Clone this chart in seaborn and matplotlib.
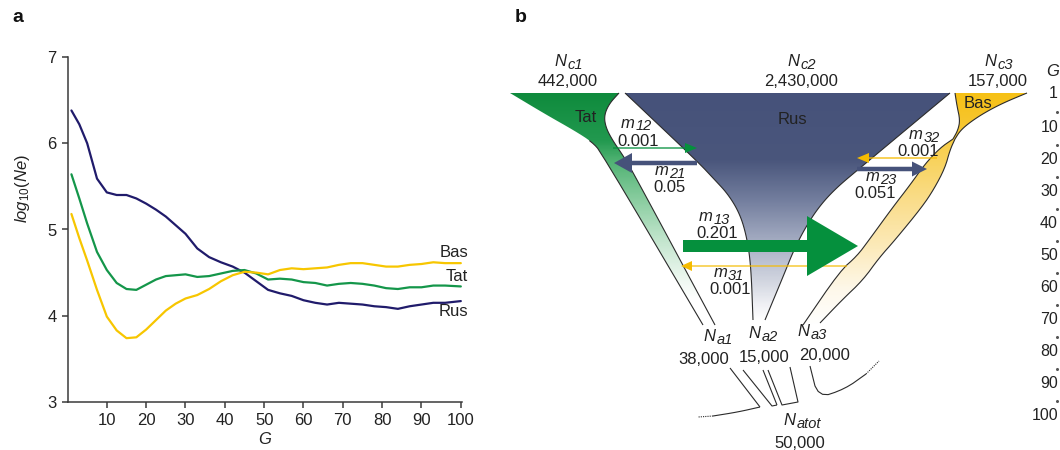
import numpy as np
import pandas as pd
import matplotlib
matplotlib.use("Agg")
import matplotlib.pyplot as plt
import seaborn as sns
from matplotlib.patches import Polygon, FancyArrow
from matplotlib.colors import LinearSegmentedColormap
from matplotlib.textpath import TextPath
from matplotlib.font_manager import FontProperties

# ---- panel a data: log10(Ne) against generation G
G = [1, 3, 5, 7.5, 10, 12.5, 15, 17.5, 20, 22.5, 25, 27.5, 30, 33, 36, 39, 42, 45,
     48, 51, 54, 57, 60, 63, 66, 69, 72, 75, 78, 81, 84, 87, 90, 93, 96, 100]
rus = [6.38, 6.22, 6.00, 5.59, 5.43, 5.40, 5.40, 5.36, 5.30, 5.23, 5.15, 5.05, 4.95, 4.78,
       4.68, 4.62, 4.57, 4.50, 4.40, 4.30, 4.26, 4.23, 4.18, 4.15, 4.13, 4.15, 4.14, 4.13,
       4.11, 4.10, 4.08, 4.11, 4.13, 4.15, 4.15, 4.17]
tat = [5.64, 5.36, 5.07, 4.74, 4.53, 4.38, 4.31, 4.30, 4.36, 4.42, 4.46, 4.47, 4.48, 4.45,
       4.46, 4.49, 4.52, 4.53, 4.49, 4.42, 4.43, 4.42, 4.39, 4.38, 4.35, 4.37, 4.38, 4.37,
       4.35, 4.32, 4.31, 4.33, 4.33, 4.35, 4.35, 4.34]
bas = [5.18, 4.90, 4.64, 4.30, 3.99, 3.83, 3.74, 3.75, 3.84, 3.95, 4.06, 4.14, 4.20, 4.24,
       4.31, 4.40, 4.47, 4.51, 4.50, 4.48, 4.53, 4.55, 4.54, 4.55, 4.56, 4.59, 4.61, 4.61,
       4.59, 4.57, 4.57, 4.59, 4.60, 4.62, 4.61, 4.61]
pops = ["Rus", "Tat", "Bas"]
pop_colors = {"Rus": "#201b6b", "Tat": "#14964a", "Bas": "#f7c600"}
label_offset = {"Rus": -0.12, "Tat": 0.11, "Bas": 0.12}

# ---- panel b data: model parameters
nc_names = ["c1", "c2", "c3"]
nc_sizes = ["442,000", "2,430,000", "157,000"]
na_names = ["a1", "a2", "a3"]
na_sizes = ["38,000", "15,000", "20,000"]
natot = "50,000"
mig_names = ["12", "21", "32", "23", "13", "31"]
mig_rates = ["0.001", "0.05", "0.001", "0.051", "0.201", "0.001"]
g_col = [1, 10, 20, 30, 40, 50, 60, 70, 80, 90, 100]

sns.set_theme(style="ticks")
plt.rcParams["font.family"] = ["Liberation Sans", "DejaVu Sans"]
plt.rcParams["mathtext.fontset"] = "custom"
plt.rcParams["mathtext.rm"] = "Liberation Sans"
plt.rcParams["mathtext.it"] = "Liberation Sans:italic"
plt.rcParams["mathtext.bf"] = "Liberation Sans:bold"

TXT = "#222222"
fig = plt.figure(figsize=(10.6, 4.5), dpi=100)

# ================= panel a =================
ax = fig.add_axes([67.5 / 1060, 1 - 402 / 450, 394.5 / 1060, 345 / 450])
df = pd.DataFrame({"G": G * 3, "logNe": rus + tat + bas,
                   "pop": np.repeat(pops, len(G))})
sns.lineplot(data=df, x="G", y="logNe", hue="pop", palette=pop_colors,
             linewidth=1.6, legend=False, ax=ax)
ax.set_xlim(0, 100.3)
ax.set_ylim(3, 7)
ax.set_xticks(range(10, 101, 10))
ax.set_yticks([3, 4, 5, 6, 7])
sns.despine(ax=ax)
for s in ["left", "bottom"]:
    ax.spines[s].set_color("#3a3a3a")
    ax.spines[s].set_linewidth(1.1)
ax.tick_params(length=4, width=1.1, color="#3a3a3a", labelsize=12,
               labelcolor=TXT, pad=4)
ax.set_xlabel("$G$", fontsize=12, color=TXT)
ax.set_ylabel("$log_{10}(Ne)$", fontsize=12, color=TXT)
ax.xaxis.set_label_coords(0.5, -0.085)
ax.yaxis.set_label_coords(-0.09, 0.62)
last = {"Rus": rus[-1], "Tat": tat[-1], "Bas": bas[-1]}
for p in pops:
    ax.text(101.8, last[p] + label_offset[p], p, ha="right", va="center",
            fontsize=12, color=TXT)
fig.text(18 / 1060, 1 - 18 / 450, "a", fontsize=14, fontweight="bold",
         ha="center", va="center", color="#111111")
fig.text(521 / 1060, 1 - 18 / 450, "b", fontsize=14, fontweight="bold",
         ha="center", va="center", color="#111111")

# ================= panel b (diagram drawn in pixel coordinates) =================
bx = fig.add_axes([500 / 1060, 0, 560 / 1060, 1])
bx.set_xlim(500, 1060)
bx.set_ylim(450, 0)
bx.axis("off")
bx.patch.set_alpha(0)


def chaikin(pts, n=3):
    pts = np.asarray(pts, float)
    for _ in range(n):
        q = 0.75 * pts[:-1] + 0.25 * pts[1:]
        r = 0.25 * pts[:-1] + 0.75 * pts[1:]
        mid = np.empty((2 * len(q), 2))
        mid[0::2], mid[1::2] = q, r
        pts = np.vstack([pts[:1], mid, pts[-1:]])
    return pts


def gradient_shape(pts, stops, y0, y1, z=1):
    poly = Polygon(pts, closed=True, facecolor="none", edgecolor="none")
    bx.add_patch(poly)
    pos = [(s - y0) / (y1 - y0) for s, _ in stops]
    cmap = LinearSegmentedColormap.from_list("g", list(zip(pos, [c for _, c in stops])))
    grad = np.linspace(0, 1, 300).reshape(-1, 1)
    xmin, xmax = pts[:, 0].min() - 2, pts[:, 0].max() + 2
    im = bx.imshow(grad, cmap=cmap, extent=(xmin, xmax, y1, y0), origin="upper",
                   aspect="auto", zorder=z, interpolation="bilinear")
    im.set_clip_path(poly)


def edge(pts, lw=0.8, ls="-", z=3):
    pts = np.asarray(pts)
    bx.plot(pts[:, 0], pts[:, 1], color="#2b2b2b", lw=lw, ls=ls, zorder=z,
            solid_capstyle="butt")


def text_w(s, size, style="italic"):
    tp = TextPath((0, 0), s, size=size,
                  prop=FontProperties(family="Liberation Sans", style=style))
    return tp.get_extents().width * 100 / 72


def sub_label(x, yb, main, sub, fs=12, sfs=10.5, drop=3, z=6):
    wm = text_w(main, fs)
    ws = text_w(sub, sfs)
    left = x - (wm + 1.5 + ws) / 2
    bx.text(left, yb, main, ha="left", va="baseline", fontsize=fs,
            style="italic", color=TXT, zorder=z)
    bx.text(left + wm + 1.5, yb + drop, sub, ha="left", va="baseline", fontsize=sfs,
            style="italic", color=TXT, zorder=z)


# Tat
tat_right = chaikin([(619, 93), (609, 104), (604, 116), (606, 128), (613, 141),
                     (624, 157), (634, 174), (715, 325)], 3)
tat_left = chaikin([(510, 93), (545, 114), (575, 131), (592, 142), (601, 152),
                    (703, 325)], 2)
tat_poly = np.vstack([tat_right, tat_left[::-1]])
gradient_shape(tat_poly, [(93, "#0f8b3d"), (140, "#22994f"), (160, "#4fb272"),
                          (200, "#8acda0"), (240, "#c2e5cd"), (280, "#eef8f1"),
                          (300, "#ffffff"), (326, "#ffffff")], 93, 326)
edge(tat_right)
edge(tat_left[tat_left[:, 1] >= 140])

# Rus
rus_left = chaikin([(625, 93), (698, 162), (713, 178), (728, 194), (740, 214),
                    (747, 238), (751, 267), (753, 320)], 3)
rus_right = chaikin([(950, 93), (860, 168), (835, 189), (818, 208), (804, 230),
                     (793, 252), (785, 272), (765, 320)], 3)
rus_poly = np.vstack([rus_left, rus_right[::-1]])
gradient_shape(rus_poly, [(93, "#46527a"), (160, "#4a567c"), (200, "#737e9e"),
                          (240, "#a3abc1"), (280, "#d0d4df"), (305, "#eff0f4"),
                          (321, "#ffffff")], 93, 321)
edge(rus_left)
edge(rus_right)

# Bas
bas_top_right = chaikin([(1027, 93), (1003, 103), (984, 113), (969, 123),
                         (960, 131), (955, 139)], 3)
bas_band_right = chaikin([(955, 139), (950, 150), (945, 168), (934, 189), (922, 207),
                          (895, 240), (879, 258), (863, 280), (842, 300), (820, 323)], 2)
bas_band_left = chaikin([(803, 325), (840, 271), (857, 256), (869, 240), (893, 207),
                         (910, 185), (925, 164), (940, 148), (953, 139)], 2)
bas_top_left = chaikin([(953, 139), (958, 130), (960, 120), (957, 106), (955, 93)], 2)
bas_poly = np.vstack([bas_top_right, bas_band_right, bas_band_left, bas_top_left])
gradient_shape(bas_poly, [(93, "#f6c116"), (130, "#f7c734"), (150, "#f8d052"),
                          (200, "#fadd8a"), (250, "#fcebbd"), (290, "#fef8ea"),
                          (326, "#ffffff")], 93, 326)
edge(bas_top_right)
edge(bas_band_right)
edge(bas_band_left)
edge(bas_top_left)

# ancestral lines
edge([(730, 368), (760, 407)])
edge(chaikin([(760, 407), (738, 412), (713, 416)], 2))
edge([(713, 416), (698, 417)], lw=0.8, ls=(0, (1, 1)))
edge([(743, 370), (772, 406), (777, 405)])
edge([(763, 370), (777, 405)])
edge([(768, 370), (782, 405), (798, 402), (790, 367)])
edge(chaikin([(810, 366), (818, 398), (845, 389), (866, 374)], 2))
edge([(866, 374), (879, 361)], ls=(0, (1, 1)))

# migration arrows
GREEN, NAVY, YELLOW = "#05903d", "#46527a", "#f5bb00"
arrows = [  # x, y, dx, shaft width, head width, head length, colour, z
    (613, 148, 84, 1.3, 10, 12, GREEN, 4),
    (697, 163, -83, 4.5, 20, 18, NAVY, 4),
    (937, 158, -80, 1.3, 10, 12, YELLOW, 4),
    (857, 169, 70, 4.5, 15, 15, NAVY, 4),
    (847, 266, -166, 1.2, 10, 11, YELLOW, 4),
    (683, 246, 175, 12, 60, 51, GREEN, 5),
]
for x, y, dx, w, hw, hl, c, z in arrows:
    bx.add_patch(FancyArrow(x, y, dx, 0, width=w, head_width=hw, head_length=hl,
                            length_includes_head=True, color=c, lw=0, zorder=z))

FS = 12
# current population sizes
for name, size, x in zip(nc_names, nc_sizes, [568, 801, 998]):
    sub_label(x, 66, "N", name)
    bx.text(x, 81, size, ha="center", va="center", fontsize=FS, color=TXT)
for p, (x, y) in zip(["Tat", "Rus", "Bas"], [(586, 118), (792, 120), (978, 104)]):
    bx.text(x, y, p, ha="center", va="center", fontsize=FS, color=TXT, zorder=6)

# migration labels
mig_pos = [(636, 125, 638, 142), (669, 172, 669, 188), (924, 136, 918, 152),
           (881, 178, 875, 194), (714, 218, 717, 233), (728, 274, 730, 289)]
for name, rate, (x1, y1, x2, y2) in zip(mig_names, mig_rates, mig_pos):
    sub_label(x1, y1 + 3, "m", name, sfs=10.5, drop=2.5)
    bx.text(x2, y2, rate, ha="center", va="center", fontsize=FS, color=TXT, zorder=6)

# ancestral sizes
for name, size, (x1, y1, x2, y2) in zip(na_names, na_sizes,
                                        [(717, 338, 704, 359), (763, 335, 764, 358),
                                         (812, 333, 825, 356)]):
    sub_label(x1, y1 + 3, "N", name)
    bx.text(x2, y2, size, ha="center", va="center", fontsize=FS, color=TXT)
sub_label(802, 425, "N", "atot")
bx.text(800, 443, natot, ha="center", va="center", fontsize=FS, color=TXT)

# generation column on the right edge
bx.text(1059, 72, "G", ha="right", va="center", fontsize=12, style="italic", color=TXT)
for i, g in enumerate(g_col):
    y = 94 if i == 0 else 127 + (i - 1) * 32
    bx.text(1058, y, str(g), ha="right", va="center", fontsize=11.5, color=TXT)
    if i < len(g_col) - 1:
        bx.plot([1057], [y + 18], marker="o", ms=1.2, color="#555555", lw=0)

fig.savefig("out.png", dpi=100)
